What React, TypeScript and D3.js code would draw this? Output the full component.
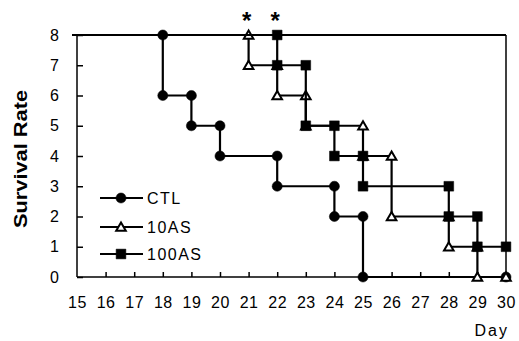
import { useEffect, useRef } from "react";
import * as d3 from "d3";

// marker points, (day, survivors) at each step corner
const ctlDays = [18, 18, 19, 19, 20, 20, 22, 22, 24, 24, 25, 25, 30];
const ctlSurv = [8, 6, 6, 5, 5, 4, 4, 3, 3, 2, 2, 0, 0];

const as10Days = [21, 21, 22, 22, 23, 23, 25, 25, 26, 26, 28, 28, 29, 29, 30];
const as10Surv = [8, 7, 7, 6, 6, 5, 5, 4, 4, 2, 2, 1, 1, 0, 0];

const as100Days = [22, 22, 23, 23, 24, 24, 25, 25, 28, 28, 29, 29, 30];
const as100Surv = [8, 7, 7, 5, 5, 4, 4, 3, 3, 2, 2, 1, 1];

const xTicks = [15, 16, 17, 18, 19, 20, 21, 22, 23, 24, 25, 26, 27, 28, 29, 30];
const yTicks = [0, 1, 2, 3, 4, 5, 6, 7, 8];
const starDays = [21, 22];

const seriesNames = ["CTL", "10AS", "100AS"];

export default function App() {
    const ref = useRef<SVGSVGElement>(null);

    useEffect(() => {
        const svg = d3.select(ref.current);
        svg.selectAll("*").remove();

        const x = d3.scaleLinear().domain([15, 30]).range([77, 506]);
        const y = d3.scaleLinear().domain([0, 8]).range([277, 35]);
        const font = "'Liberation Sans', Arial, sans-serif";

        // plot frame: top and right
        svg.append("line")
            .attr("x1", x(15) - 5).attr("x2", x(30))
            .attr("y1", y(8)).attr("y2", y(8))
            .attr("stroke", "#000").attr("stroke-width", 2);
        svg.append("line")
            .attr("x1", x(30)).attr("x2", x(30))
            .attr("y1", y(8)).attr("y2", y(0))
            .attr("stroke", "#000").attr("stroke-width", 1.5);

        // y axis, ticks inward
        const yAxis = d3.axisRight(y).tickValues(yTicks).tickSize(6).tickFormat(() => "");
        const gy = svg.append("g").attr("transform", `translate(${x(15)},0)`).call(yAxis);
        gy.select(".domain").remove();
        gy.selectAll("line").attr("stroke-width", 1.5);
        svg.append("line")
            .attr("x1", x(15)).attr("x2", x(15))
            .attr("y1", y(8)).attr("y2", y(0))
            .attr("stroke", "#000").attr("stroke-width", 1.5);

        svg.append("g").selectAll("text")
            .data(yTicks)
            .enter().append("text")
            .attr("x", 59)
            .attr("y", (d) => y(d) + 5.5)
            .attr("text-anchor", "end")
            .attr("font-family", font)
            .attr("font-size", 16)
            .text((d) => d);

        // x axis, ticks inward
        const xAxis = d3.axisTop(x).tickValues(xTicks.slice(1, -1)).tickSize(5).tickFormat(() => "");
        const gx = svg.append("g").attr("transform", `translate(0,${y(0)})`).call(xAxis);
        gx.select(".domain").remove();
        gx.selectAll("line").attr("stroke-width", 1.5);
        svg.append("line")
            .attr("x1", x(15)).attr("x2", x(30))
            .attr("y1", y(0)).attr("y2", y(0))
            .attr("stroke", "#000").attr("stroke-width", 1.5);

        svg.append("g").selectAll("text")
            .data(xTicks)
            .enter().append("text")
            .attr("x", (d) => x(d) + 0.5)
            .attr("y", 307.5)
            .attr("text-anchor", "middle")
            .attr("font-family", font)
            .attr("font-size", 16)
            .attr("letter-spacing", 0.5)
            .text((d) => d);

        svg.append("text")
            .attr("x", 509).attr("y", 335.5)
            .attr("text-anchor", "end")
            .attr("font-family", font)
            .attr("font-size", 16)
            .attr("letter-spacing", 2)
            .text("Day");

        svg.append("text")
            .attr("transform", "translate(27,159) rotate(-90)")
            .attr("text-anchor", "middle")
            .attr("font-family", font)
            .attr("font-size", 18)
            .attr("font-weight", "bold")
            .attr("textLength", 138)
            .attr("lengthAdjust", "spacingAndGlyphs")
            .text("Survival Rate");

        // asterisks
        svg.append("g").selectAll("text")
            .data(starDays)
            .enter().append("text")
            .attr("x", (d) => x(d) - 2)
            .attr("y", 29)
            .attr("text-anchor", "middle")
            .attr("font-family", font)
            .attr("font-size", 24)
            .attr("font-weight", "bold")
            .text("*");

        const line = d3.line<[number, number]>().x((d) => x(d[0])).y((d) => y(d[1]));

        const series = [
            { days: ctlDays, surv: ctlSurv, sym: d3.symbolCircle, size: 80, fill: "#000" },
            { days: as10Days, surv: as10Surv, sym: d3.symbolTriangle, size: 40, fill: "#fff" },
            { days: as100Days, surv: as100Surv, sym: d3.symbolSquare, size: 95, fill: "#000" },
        ];

        series.forEach((s) => {
            const pts: [number, number][] = s.days.map((d, i) => [d, s.surv[i]]);
            svg.append("path")
                .datum([[15, 8] as [number, number], ...pts])
                .attr("fill", "none")
                .attr("stroke", "#000")
                .attr("stroke-width", 2.2)
                .attr("d", line);
            svg.append("g").selectAll("path")
                .data(pts)
                .enter().append("path")
                .attr("transform", (d) => `translate(${x(d[0])},${y(d[1]) + (s.sym === d3.symbolTriangle ? 1 : 0)})`)
                .attr("d", d3.symbol().type(s.sym).size(s.size)())
                .attr("fill", s.fill)
                .attr("stroke", "#000")
                .attr("stroke-width", s.sym === d3.symbolTriangle ? 2 : 0.5);
        });

        // legend
        const legY = [198, 227, 254];
        series.forEach((s, i) => {
            svg.append("line")
                .attr("x1", 100).attr("x2", 143)
                .attr("y1", legY[i]).attr("y2", legY[i])
                .attr("stroke", "#000").attr("stroke-width", 2.2);
            svg.append("path")
                .attr("transform", `translate(121,${legY[i] + (s.sym === d3.symbolTriangle ? 1 : 0)})`)
                .attr("d", d3.symbol().type(s.sym).size(s.size)())
                .attr("fill", s.fill)
                .attr("stroke", "#000")
                .attr("stroke-width", s.sym === d3.symbolTriangle ? 2 : 0.5);
            svg.append("text")
                .attr("x", 147).attr("y", legY[i] + 6)
                .attr("font-family", font)
                .attr("font-size", 16)
                .attr("letter-spacing", 1.5)
                .text(seriesNames[i]);
        });
    }, []);

    return (
        <svg ref={ref} width={519} height={341}
            style={{ position: "absolute", left: 0, top: 0, background: "#fff" }}></svg>
    );
}
